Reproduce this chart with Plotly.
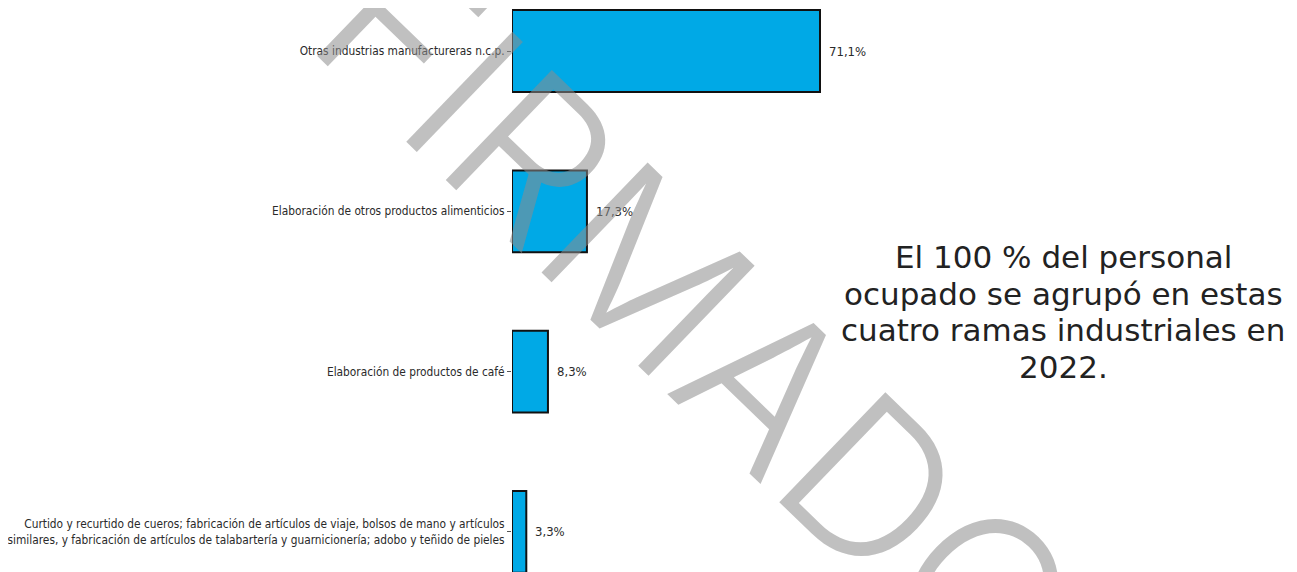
import plotly.graph_objects as go

categories = [
    "Otras industrias manufactureras n.c.p.",
    "Elaboración de otros productos alimenticios",
    "Elaboración de productos de café",
    "Curtido y recurtido de cueros; fabricación de artículos de viaje, bolsos de mano y artículos<br>"
    "similares, y fabricación de artículos de talabartería y guarnicionería; adobo y teñido de pieles",
]
values = [71.1, 17.3, 8.3, 3.3]
value_labels = [f"{v:.1f}%".replace(".", ",") for v in values]

note_lines = ["El 100 % del personal", "ocupado se agrupó en estas",
              "cuatro ramas industriales en", "2022."]
watermark_text = "FIRMADO"

W, H = 1297, 572
OFF = 8            # page body margin
L = 512 - OFF      # left edge of plot area (figure px)
PX_PER_ROW = 160.3
ROW0 = 51 - OFF    # centre of first bar (figure px)

fig = go.Figure()
fig.add_trace(go.Bar(
    x=values, y=categories, orientation="h",
    marker=dict(color="#00A9E6", line=dict(color="#111111", width=2)),
    width=0.51, hoverinfo="skip",
))

label_font = dict(family="DejaVu Sans Condensed, sans-serif", size=11.8, color="#2a2a2a")
value_font = dict(family="DejaVu Sans Condensed, sans-serif", size=13, color="#2a2a2a")

annotations = []
for cat, v, t in zip(categories, values, value_labels):
    annotations.append(dict(x=v, y=cat, xref="x", yref="y", text=t, showarrow=False,
                            xanchor="left", yanchor="middle", xshift=7, font=value_font))


def px(xp):
    return (xp - L) / (W - L)


def py(yp):
    return 1 - yp / H


note_y0, note_dy = 257 - OFF, 36.5
for i, line in enumerate(note_lines):
    annotations.append(dict(
        x=px(1063 - OFF), y=py(note_y0 + i * note_dy), xref="paper", yref="paper",
        text=line, showarrow=False, xanchor="center", yanchor="middle", align="center",
        font=dict(family="DejaVu Sans, sans-serif", size=31, color="#222222"),
    ))

annotations.append(dict(
    x=px(690), y=py(310), xref="paper", yref="paper",
    text=watermark_text, showarrow=False, xanchor="center", yanchor="middle",
    textangle=44,
    font=dict(family="Inter, sans-serif", size=210, color="rgba(140,140,140,0.55)", weight=300),
))

fig.update_layout(
    width=W, height=H,
    margin=dict(l=L, r=0, t=0, b=0, autoexpand=False),
    paper_bgcolor="white", plot_bgcolor="white",
    showlegend=False,
    xaxis=dict(range=[0, (W - L) / (308 / 71.1)], visible=False, fixedrange=True,
               automargin=False),
    yaxis=dict(range=[(H - ROW0) / PX_PER_ROW, -ROW0 / PX_PER_ROW],
               showgrid=False, zeroline=False, showline=False,
               ticks="outside", ticklen=4, tickcolor="#555555", tickwidth=1,
               tickfont=label_font, fixedrange=True, automargin=False),
    annotations=annotations,
)

fig.write_html("out.html")
